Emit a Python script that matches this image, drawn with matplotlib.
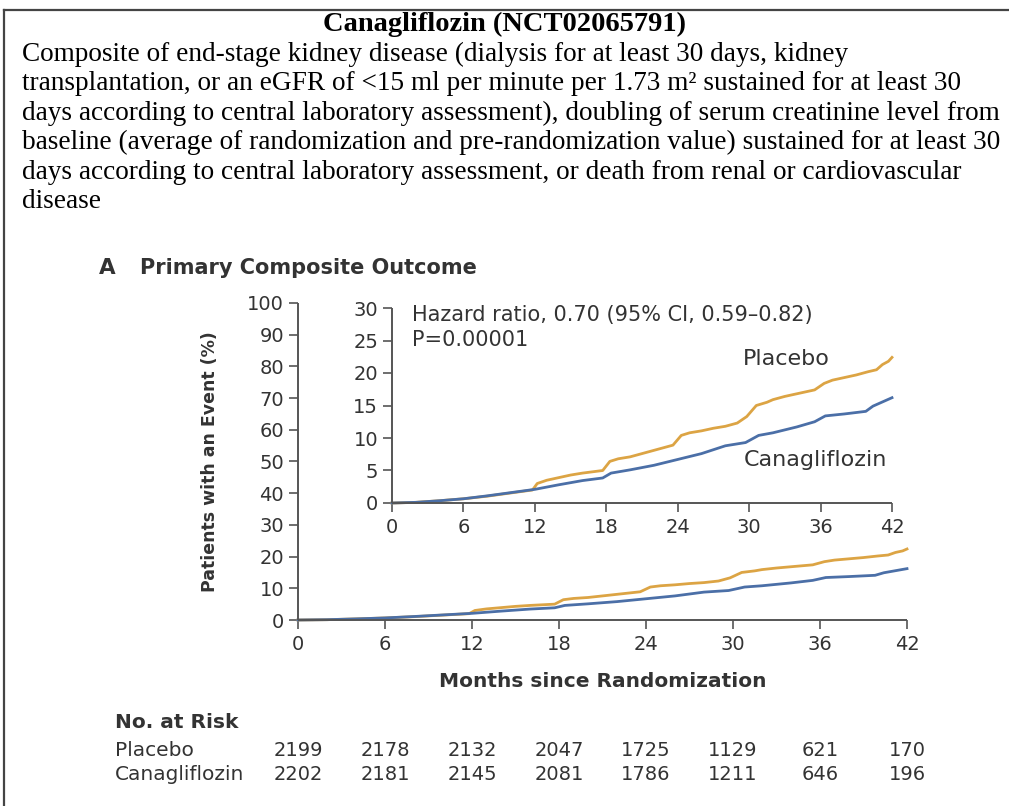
import matplotlib
matplotlib.use('Agg')
import matplotlib.pyplot as plt
from matplotlib.lines import Line2D
import matplotlib.transforms as mtransforms

plt.rcParams['font.family'] = ['DejaVu Sans']

# ---- data ----
placebo_t = [0, 2, 4, 6, 8, 10, 11.8, 12.2, 13, 14, 15, 16, 17.7, 18.3, 19, 20, 21, 22,
             23.6, 24.3, 25, 26, 27, 28, 29, 29.8, 30.6, 31.5, 32, 33, 34, 35.5, 36.3,
             37, 38, 39, 40, 40.7, 41.2, 41.7, 42]
placebo_v = [0, 0.1, 0.35, 0.65, 1.05, 1.55, 2.0, 3.0, 3.5, 3.9, 4.3, 4.6, 5.0, 6.4, 6.8,
             7.1, 7.6, 8.1, 8.9, 10.4, 10.8, 11.1, 11.5, 11.8, 12.3, 13.3, 15.0, 15.5, 15.9,
             16.4, 16.8, 17.4, 18.4, 18.9, 19.3, 19.7, 20.2, 20.5, 21.3, 21.8, 22.4]
cana_t = [0, 2, 4, 6, 8, 10, 12, 14, 16, 17.7, 18.4, 20, 22, 24, 26, 28, 29.7, 30.8, 32,
          34, 35.5, 36.4, 38, 39.8, 40.4, 42]
cana_v = [0, 0.1, 0.35, 0.65, 1.1, 1.6, 2.1, 2.8, 3.45, 3.85, 4.6, 5.1, 5.8, 6.7, 7.6,
          8.8, 9.3, 10.4, 10.8, 11.7, 12.5, 13.4, 13.7, 14.1, 14.9, 16.2]

risk_months = [0, 6, 12, 18, 24, 30, 36, 42]
risk_placebo = [2199, 2178, 2132, 2047, 1725, 1129, 621, 170]
risk_cana = [2202, 2181, 2145, 2081, 1786, 1211, 646, 196]

title = 'Canagliflozin (NCT02065791)'
desc_lines = [
    'Composite of end-stage kidney disease (dialysis for at least 30 days, kidney',
    'transplantation, or an eGFR of <15 ml per minute per 1.73 m\u00b2 sustained for at least 30',
    'days according to central laboratory assessment), doubling of serum creatinine level from',
    'baseline (average of randomization and pre-randomization value) sustained for at least 30',
    'days according to central laboratory assessment, or death from renal or cardiovascular',
    'disease',
]

c_pla = '#DCA444'
c_can = '#4B6FA7'
txt = '#333333'
spine_c = '#555555'

W, H = 1009, 806
fig = plt.figure(figsize=(W / 100, H / 100), dpi=100)

def fx(px):
    return px / W

def fy(py):
    return 1 - py / H

# frame (top and left border)
fig.add_artist(Line2D([fx(4), 1], [fy(10), fy(10)], color='#444444', lw=1.6))
fig.add_artist(Line2D([fx(4), fx(4)], [fy(10), 0], color='#444444', lw=1.6))

fig.text(fx(505), fy(24), title, family='Liberation Serif', fontweight='bold',
         fontsize=20.5, ha='center', va='center', color='black')
for i, line in enumerate(desc_lines):
    fig.text(fx(22), fy(54 + i * 29.6), line, family='Liberation Serif',
             fontsize=19.6, ha='left', va='center', color='black')

fig.text(fx(99), fy(268), 'A', fontweight='bold', fontsize=15.5, ha='left', va='center', color=txt)
fig.text(fx(140), fy(268), 'Primary Composite Outcome', fontweight='bold', fontsize=15,
         ha='left', va='center', color=txt)


def style(ax, yt):
    for s in ['top', 'right']:
        ax.spines[s].set_visible(False)
    for s in ['left', 'bottom']:
        ax.spines[s].set_color(spine_c)
        ax.spines[s].set_linewidth(1.4)
        ax.spines[s].set_capstyle('butt')
    ax.set_xticks(risk_months)
    ax.set_yticks(yt)
    ax.tick_params(direction='out', length=6.5, width=1.2, color=spine_c,
                   labelsize=14, labelcolor=txt)
    ax.tick_params(axis='x', pad=4.5)
    ax.tick_params(axis='y', pad=3.5)
    ax.set_xlim(0, 42)
    ax.patch.set_alpha(0)


# main axes
ax = fig.add_axes([fx(298), fy(620), fx(907) - fx(298), fy(303) - fy(620)])
ax.plot(placebo_t, placebo_v, color=c_pla, lw=2.0, clip_on=False, solid_joinstyle='round')
ax.plot(cana_t, cana_v, color=c_can, lw=2.0, clip_on=False, solid_joinstyle='round')
ax.set_ylim(0, 100)
style(ax, range(0, 101, 10))
ax.set_xlabel('Months since Randomization', fontweight='bold', fontsize=14.5, color=txt)
ax.xaxis.set_label_coords(0.5, -0.165)
ax.set_ylabel('Patients with an Event (%)', fontweight='bold', fontsize=12.5, color=txt)
ax.yaxis.set_label_coords(-0.13, 0.5)

# inset axes
ax2 = fig.add_axes([fx(392), fy(503), fx(892) - fx(392), fy(308) - fy(503)])
ax2.plot(placebo_t, placebo_v, color=c_pla, lw=2.0, clip_on=False, solid_joinstyle='round')
ax2.plot(cana_t, cana_v, color=c_can, lw=2.0, clip_on=False, solid_joinstyle='round')
ax2.set_ylim(0, 30)
style(ax2, range(0, 31, 5))

ax2.text(1.7, 29.0, 'Hazard ratio, 0.70 (95% CI, 0.59\u20130.82)', fontsize=15,
         color=txt, ha='left', va='center')
ax2.text(1.7, 25.0, 'P=0.00001', fontsize=15, color=txt, ha='left', va='center')
ax2.text(33.1, 22.2, 'Placebo', fontsize=16, color=txt, ha='center', va='center')
ax2.text(35.6, 6.6, 'Canagliflozin', fontsize=16, color=txt, ha='center', va='center')

# number at risk table
fig.text(fx(115), fy(723), 'No. at Risk', fontweight='bold', fontsize=14.5,
         ha='left', va='center', color=txt)
rows = [('Placebo', risk_placebo, 750), ('Canagliflozin', risk_cana, 775)]
trans = mtransforms.blended_transform_factory(ax.transData, fig.transFigure)
for name, vals, py in rows:
    fig.text(fx(115), fy(py), name, fontsize=14.5, ha='left', va='center', color=txt)
    for m, v in zip(risk_months, vals):
        ax.text(m, fy(py), str(v), transform=trans, fontsize=14, ha='center',
                va='center', color=txt, clip_on=False)

fig.savefig('out.png', dpi=100, facecolor='white')
